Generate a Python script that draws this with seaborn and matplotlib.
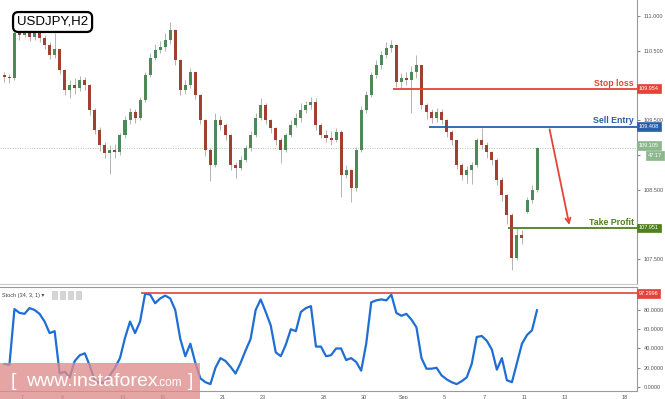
import numpy as np
import pandas as pd
import matplotlib
matplotlib.use("Agg")
import matplotlib.pyplot as plt
from matplotlib.patches import Rectangle
import seaborn as sns

# USDJPY, H2 chart -- at one candle per 6 trading hours
first_open = 110.15
close = [110.12, 110.10, 110.76, 110.73, 110.80, 110.70, 110.77, 110.68, 110.58, 110.44,
         110.52, 110.22, 109.93, 110.00, 109.96, 110.08, 110.00, 109.65, 109.36, 109.14,
         109.03, 109.07, 109.04, 109.29, 109.50, 109.62, 109.53, 109.79, 110.15, 110.39,
         110.51, 110.55, 110.65, 110.80, 110.37, 109.93, 110.00, 110.19, 109.86, 109.50,
         109.07, 108.85, 109.50, 109.43, 109.29, 108.85, 108.81, 108.93, 109.10, 109.29,
         109.53, 109.72, 109.50, 109.39, 109.21, 109.07, 109.29, 109.43, 109.53, 109.65,
         109.72, 109.76, 109.43, 109.29, 109.24, 109.21, 109.33, 108.71, 108.78, 108.52,
         109.07, 109.65, 109.86, 110.15, 110.29, 110.44, 110.54, 110.58, 110.05, 110.11,
         110.08, 110.19, 110.29, 109.72, 109.62, 109.53, 109.62, 109.50, 109.33, 109.21,
         108.85, 108.71, 108.78, 108.85, 109.21, 109.14, 109.04, 108.93, 108.64, 108.42,
         108.13, 107.51, 107.85, 107.80, 108.35, 108.49, 109.10]
high = [110.19, 110.16, 110.82, 110.85, 110.88, 110.84, 110.86, 110.82, 110.72, 110.62,
        110.76, 110.52, 110.24, 110.08, 110.10, 110.14, 110.12, 110.02, 109.68, 109.40,
        109.18, 109.14, 109.16, 109.32, 109.56, 109.68, 109.66, 109.84, 110.20, 110.46,
        110.60, 110.64, 110.75, 110.91, 110.82, 110.38, 110.08, 110.25, 110.20, 109.88,
        109.52, 109.10, 109.60, 109.56, 109.46, 109.30, 108.90, 108.98, 109.14, 109.34,
        109.60, 109.82, 109.75, 109.52, 109.40, 109.24, 109.32, 109.50, 109.60, 109.74,
        109.78, 109.84, 109.82, 109.46, 109.36, 109.34, 109.38, 109.36, 108.86, 108.80,
        109.12, 109.70, 109.92, 110.20, 110.36, 110.50, 110.62, 110.66, 110.60, 110.18,
        110.20, 110.28, 110.44, 110.30, 109.74, 109.66, 109.68, 109.66, 109.52, 109.36,
        109.22, 108.88, 108.84, 108.90, 109.25, 109.38, 109.18, 109.06, 108.96, 108.68,
        108.44, 108.16, 107.96, 107.92, 108.40, 108.56, 109.12]
low = [110.05, 110.04, 110.08, 110.66, 110.70, 110.64, 110.66, 110.62, 110.52, 110.38,
       110.40, 110.16, 109.86, 109.82, 109.88, 109.92, 109.94, 109.58, 109.30, 109.06,
       108.96, 108.72, 108.95, 109.00, 109.25, 109.45, 109.46, 109.50, 109.76, 110.12,
       110.36, 110.46, 110.50, 110.60, 110.30, 109.86, 109.88, 109.96, 109.80, 109.44,
       108.98, 108.62, 108.82, 109.36, 109.22, 108.78, 108.67, 108.78, 108.90, 109.06,
       109.26, 109.50, 109.44, 109.32, 109.14, 108.88, 109.04, 109.26, 109.40, 109.48,
       109.60, 109.66, 109.36, 109.24, 109.18, 109.14, 109.18, 108.40, 108.66, 108.32,
       108.48, 109.04, 109.60, 109.84, 110.10, 110.24, 110.40, 110.48, 109.98, 109.96,
       110.00, 109.60, 110.10, 109.66, 109.52, 109.46, 109.48, 109.44, 109.26, 109.14,
       108.80, 108.64, 108.60, 108.58, 108.82, 109.08, 108.96, 108.86, 108.56, 108.34,
       108.00, 107.34, 107.48, 107.72, 108.16, 108.30, 108.46]
# Monday open after the weekend gap (candle index -> open)
gap_opens = {104: 108.18}

stoch = [24, 23, 81, 77, 76, 82, 80, 76, 68, 56,
         58, 14, 16, 10, 27, 33, 35, 22, 6, 4,
         5, 12, 20, 30, 51, 68, 56, 68, 97, 96,
         87, 92, 95, 92, 80, 50, 32, 45, 25, 9,
         5, 3, 20, 30, 27, 21, 14, 25, 38, 50,
         80, 91, 78, 64, 36, 32, 44, 60, 58, 78,
         82, 84, 42, 42, 32, 33, 40, 40, 28, 30,
         26, 17, 45, 88, 90, 91, 90, 96, 77, 74,
         76, 70, 62, 30, 19, 19, 20, 12, 8, 5,
         3, 6, 10, 24, 52, 53, 48, 39, 18, 30,
         7, 5, 25, 45, 54, 59, 80]

day_ticks = [0, 2, 5, 7, 10, 12, 15, 17, 19, 21, 23, 25, 27, 30]
day_labels = ["7", "9", "14", "16", "21", "23", "28", "30", "Sep", "5", "7", "11", "13", "18"]
price_ticks = [107.5, 108.0, 108.5, 109.0, 109.5, 110.0, 110.5, 111.0]
# labels that sit behind the level tags on the price scale are not shown
price_labels = ["107.500", "", "108.500", "", "109.500", "", "110.500", "111.000"]
stoch_ticks = [0, 20, 40, 60, 80]

stop_loss = 109.954
sell_entry = 109.408
take_profit = 107.951
last_price = 109.105
stoch_level = 97.2996
countdown = "47:17"

# trading-day position of each candle (Aug 7 = 0, four candles a day)
n = len(close)
t = -0.875 + 0.25 * np.arange(n)
opens = [first_open] + close[:-1]
for i, v in gap_opens.items():
    opens[i] = v
df = pd.DataFrame({"t": t, "open": opens, "high": high, "low": low, "close": close})
df["up"] = df["close"] >= df["open"]

sns.set_style("white")
plt.rcParams["font.family"] = ["Liberation Sans", "DejaVu Sans"]

RED = "#e4433a"
BLUE = "#2b5ea9"
GREEN = "#4f7f1f"
UP = "#4d8a57"
DOWN = "#a13f30"
AXC = "#9a9a9a"

W, H = 665, 399
fig = plt.figure(figsize=(W / 100, H / 100), dpi=100)
ax = fig.add_axes([0, 1 - 284 / H, 637 / W, 284 / H])
ax2 = fig.add_axes([0, 8 / H, 637 / W, 104 / H], sharex=ax)

# candles
ax.vlines(df["t"], df["low"], df["high"], color="#b3b3b3", lw=0.7, zorder=2)
body_lo = df[["open", "close"]].min(axis=1)
body_h = (df["close"] - df["open"]).abs().clip(lower=0.012)
ax.bar(df["t"], body_h, bottom=body_lo, width=0.15,
       color=np.where(df["up"], UP, DOWN), lw=0, zorder=3)

ax.set_xlim(-1.094, 30.597)
ax.set_ylim(107.14, 111.2305)

ax.axhline(last_price, color="#a9c9a9", lw=0.7, ls=(0, (1, 1.5)), zorder=1)
ax.hlines(stop_loss, 18.46, 30.597, color=RED, lw=1.3, zorder=4)
ax.hlines(sell_entry, 20.25, 30.597, color=BLUE, lw=1.3, zorder=4)
ax.hlines(take_profit, 24.18, 30.597, color=GREEN, lw=1.3, zorder=4)
ax.annotate("", xy=(27.26, take_profit), xytext=(26.22, sell_entry),
            arrowprops=dict(arrowstyle="->", color=RED, lw=1.3, mutation_scale=9), zorder=5)

for lvl, name, col in [(stop_loss, "Stop loss", RED), (sell_entry, "Sell Entry", BLUE),
                       (take_profit, "Take Profit", GREEN)]:
    ax.text(30.45, lvl + 0.015, name, ha="right", va="bottom", color=col,
            fontsize=6.3, fontweight="bold", zorder=6)

ax.yaxis.tick_right()
ax.set_yticks(price_ticks)
ax.set_yticklabels(price_labels)
ax.tick_params(axis="y", labelsize=4, colors="#555555", length=2, pad=3, width=0.5)
ax.tick_params(axis="x", bottom=False, labelbottom=False)
for s in ["left", "top"]:
    ax.spines[s].set_visible(False)
ax.spines["right"].set_color(AXC)
ax.spines["right"].set_linewidth(0.8)
ax.spines["bottom"].set_color("#c9c9c9")
ax.spines["bottom"].set_linewidth(0.8)


def tag(axis, y, text, color, dx=2, dy=0, size=4):
    axis.annotate(text, xy=(1, y), xycoords=("axes fraction", "data"),
                  xytext=(dx, dy), textcoords="offset pixels", ha="left", va="center",
                  fontsize=size, color="white", annotation_clip=False, zorder=10,
                  bbox=dict(boxstyle="square,pad=0.3", fc=color, ec=color, lw=0.5))


tag(ax, stop_loss, f"{stop_loss:.3f}", RED)
tag(ax, sell_entry, f"{sell_entry:.3f}", BLUE)
tag(ax, take_profit, f"{take_profit:.3f}", GREEN)
tag(ax, last_price, f"{last_price:.3f}", "#8db78d", dy=2)
tag(ax, last_price, countdown, "#8db78d", dx=11, dy=-8)

ax.text(17 / 637, 1 - 22 / 284, "USDJPY,H2", transform=ax.transAxes, ha="left",
        va="center", fontsize=9.5, color="black", zorder=8,
        bbox=dict(boxstyle="round,pad=0.3,rounding_size=0.4", fc="white", ec="black", lw=1.6))

# stochastic panel
sns.lineplot(x=t, y=stoch, ax=ax2, color="#1f6ed4", lw=1.6, zorder=3)
ax2.hlines(stoch_level, 5.93, 30.597, color=RED, lw=1.2, zorder=4)
ax2.set_ylim(-4.16, 103.9)
ax2.yaxis.tick_right()
ax2.set_yticks(stoch_ticks)
ax2.set_yticklabels([f"{v:.4f}" for v in stoch_ticks])
ax2.set_xticks(day_ticks)
ax2.set_xticklabels(day_labels)
ax2.tick_params(axis="y", labelsize=4, colors="#555555", length=2, pad=3, width=0.5)
ax2.tick_params(axis="x", labelsize=4, colors="#555555", length=2, pad=1, width=0.5)
ax2.spines["left"].set_visible(False)
for s in ["right", "bottom", "top"]:
    ax2.spines[s].set_color(AXC)
    ax2.spines[s].set_linewidth(0.8)
tag(ax2, stoch_level, f"{stoch_level:.4f}", RED)
ax2.text(0.003, 0.92, "Stoch (34, 3, 1) \u25be", transform=ax2.transAxes, fontsize=4,
         color="#444444", va="center", ha="left")
for i in range(4):
    ax2.text((54 + i * 8) / 637, 0.92, " ", transform=ax2.transAxes, fontsize=3,
             va="center", bbox=dict(boxstyle="square,pad=0.5", fc="#d5d5d5", ec="#c0c0c0", lw=0.4))

# watermark
fig.patches.append(Rectangle((0, 0), 200 / W, 36 / H, transform=fig.transFigure,
                             fc="#e08c8c", alpha=0.78, lw=0, zorder=20))
wm_y = 1 - 381 / H
fig.text(11 / W, wm_y, "[", fontsize=14, color="white", va="center", zorder=21)
fig.text(26 / W, wm_y, "www.instaforex", fontsize=14, color="white", va="center", zorder=21)
fig.text(157 / W, wm_y - 0.006, ".com", fontsize=8.5, color="white", va="center", zorder=21)
fig.text(188 / W, wm_y, "]", fontsize=14, color="white", va="center", zorder=21)

fig.savefig("out.png", dpi=100)
